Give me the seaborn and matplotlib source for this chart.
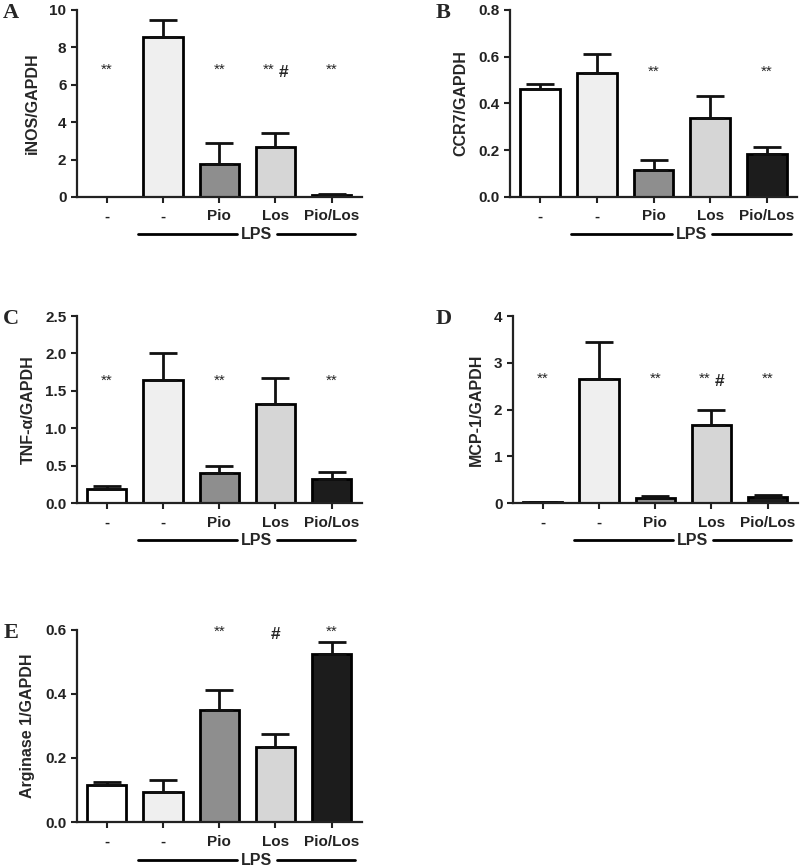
import numpy as np
import seaborn as sns
import matplotlib.pyplot as plt
from matplotlib import transforms

sns.set_style("ticks")
plt.rcParams['font.family'] = ['Liberation Sans', 'DejaVu Sans']
plt.rcParams['font.weight'] = 'bold'

groups = ["Ctrl", "LPS", "LPS+Pio", "LPS+Los", "LPS+Pio/Los"]
tick_labels = ["-", "-", "Pio", "Los", "Pio/Los"]
bar_colors = ["#ffffff", "#efefef", "#8e8e8e", "#d6d6d6", "#1c1c1c"]

inos = [0.0, 8.55, 1.78, 2.69, 0.1]
inos_err = [0.0, 0.92, 1.1, 0.71, 0.04]
ccr7 = [0.461, 0.531, 0.117, 0.339, 0.184]
ccr7_err = [0.023, 0.081, 0.041, 0.094, 0.031]
tnf = [0.185, 1.64, 0.40, 1.33, 0.32]
tnf_err = [0.047, 0.37, 0.10, 0.34, 0.09]
mcp1 = [0.02, 2.66, 0.10, 1.66, 0.12]
mcp1_err = [0.005, 0.78, 0.04, 0.34, 0.06]
arg1 = [0.115, 0.095, 0.349, 0.235, 0.526]
arg1_err = [0.01, 0.037, 0.064, 0.04, 0.035]

panels = [
    # letter, values, errors, ylabel, ymax, step, star bars, hash bars, mark level, box (l, b, w, h)
    ("A", inos, inos_err, "iNOS/GAPDH", 10, 2, [0, 2, 3, 4], [3], 6.8, (0.096, 0.7728, 0.356, 0.2157)),
    ("B", ccr7, ccr7_err, "CCR7/GAPDH", 0.8, 0.2, [2, 4], [], 0.537, (0.6375, 0.7728, 0.359, 0.2157)),
    ("C", tnf, tnf_err, "TNF-\u03b1/GAPDH", 2.5, 0.5, [0, 2, 4], [], 1.64, (0.096, 0.4198, 0.356, 0.2157)),
    ("D", mcp1, mcp1_err, "MCP-1/GAPDH", 4, 1, [0, 2, 3, 4], [3], 2.65, (0.641, 0.4198, 0.356, 0.2157)),
    ("E", arg1, arg1_err, "Arginase 1/GAPDH", 0.6, 0.2, [2, 4], [3], 0.595, (0.096, 0.0519, 0.356, 0.2215)),
]

fig = plt.figure(figsize=(8, 8.67), dpi=100)

for letter, vals, errs, ylab, ymax, step, stars, hashes, level, box in panels:
    ax = fig.add_axes(box)
    sns.barplot(x=groups, y=vals, hue=groups, palette=bar_colors, order=groups,
                legend=False, ax=ax, width=0.7, edgecolor="black", linewidth=2.0,
                saturation=1)
    xs = np.arange(len(groups))
    ax.errorbar(xs, vals, yerr=[np.zeros(len(errs)), errs], fmt="none",
                ecolor="#111111", elinewidth=2.0, capsize=10, capthick=2.0, zorder=1)
    ax.set_xlim(-0.53, 4.53)
    ax.set_ylim(0, ymax)
    yt = np.arange(0, ymax + step / 2, step)
    ax.set_yticks(yt)
    if step < 1:
        ax.set_yticklabels([f"{v:.1f}" for v in yt])
    else:
        ax.set_yticklabels([f"{int(v)}" for v in yt])
    ax.set_xticks(xs)
    ax.set_xticklabels(tick_labels)
    ax.tick_params(labelsize=11, width=1.5, length=4, colors="#222222")
    ax.tick_params(axis="x", pad=5)
    ax.set_ylabel(ylab, fontsize=11.5, fontweight="bold", labelpad=7)
    ax.set_xlabel("")
    sns.despine(ax=ax)
    for s in ["left", "bottom"]:
        ax.spines[s].set_linewidth(1.6)
        ax.spines[s].set_color("#222222")

    # significance marks
    for i in stars:
        dx = -0.13 if i in hashes else 0
        ax.text(i + dx, level, "**", ha="center", va="center", fontsize=11, fontweight="normal")
    for i in hashes:
        dx = 0.15 if i in stars else 0
        ax.text(i + dx, level - ymax * 0.015, "#", ha="center", va="center", fontsize=12.5,
                fontweight="bold")

    # LPS bracket
    trans = transforms.blended_transform_factory(ax.transData, ax.transAxes)
    yl = -0.2
    ax.plot([0.55, 2.32], [yl, yl], color="black", lw=2, transform=trans, clip_on=False)
    ax.plot([3.03, 4.42], [yl, yl], color="black", lw=2, transform=trans, clip_on=False)
    ax.text(2.67, yl, "LPS", ha="center", va="center", fontsize=11.5, fontweight="bold",
            transform=trans)

    # panel letter
    lx = 0.014 if box[0] < 0.5 else 0.554
    fig.text(lx, box[1] + box[3] - 0.004, letter, family=["Liberation Serif", "DejaVu Serif"],
             fontsize=16, fontweight="bold", ha="center", va="center")

fig.savefig("out.png", dpi=100)
